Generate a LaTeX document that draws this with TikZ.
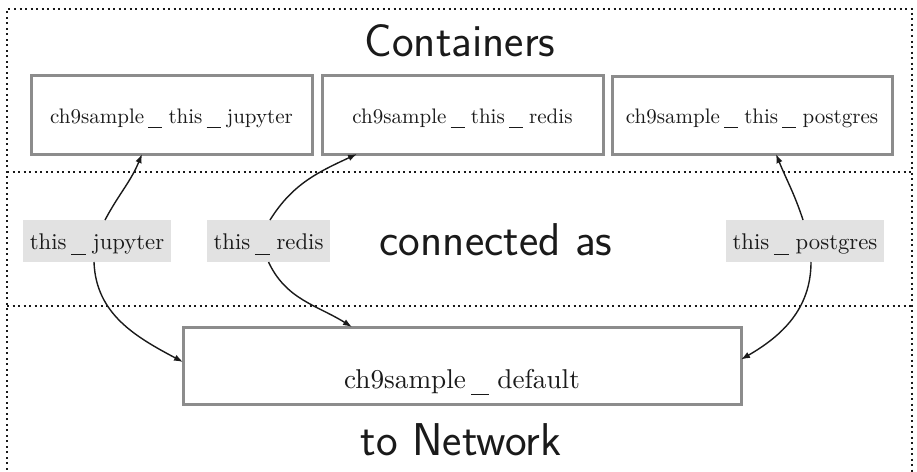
\documentclass[tikz,border=0pt]{standalone}
\usetikzlibrary{arrows.meta}
\definecolor{boxgray}{HTML}{8C8C8C}
\definecolor{labfill}{HTML}{E2E2E2}
\definecolor{ink}{HTML}{1A1A1A}
\newcommand\bigtxt[3]{\raisebox{#2}[0pt][0pt]{\scalebox{#1}{#3}}}
\newcommand\usc{\kern2pt\rule[-2.5pt]{6.6pt}{0.42pt}\kern3pt}
\begin{document}
\begin{tikzpicture}[x=1pt,y=-1pt,
  frame/.style={line width=2pt,dash pattern=on 2pt off 3.5pt,ink},
  cbox/.style={draw=boxgray,line width=3pt,fill=white,inner sep=0pt,outer sep=0pt,
     minimum width=281pt,minimum height=79pt,text=ink,font=\normalsize},
  lab/.style={fill=labfill,inner sep=0pt,outer sep=0pt,minimum height=42pt,text=ink,
     font=\normalsize},
  title/.style={text=ink,font=\sffamily\fontsize{46}{52}\selectfont,inner sep=0pt},
  conn/.style={line width=1.4pt,ink,-{Latex[length=9pt,width=6.5pt]}}]
\useasboundingbox (0,0) rectangle (917,471);
\draw[frame] (7,475) -- (7,9) -- (912,9) -- (912,475);
\draw[frame] (7,172) -- (912,172);
\draw[frame] (7,305.5) -- (912,305.5);

\node[title] (t1) at (460,41) {Containers};
\node[title] (t2) at (496,240) {connected as};
\node[title] (t3) at (461,440) {to Network};

\node[cbox] (jup) at (171.5,114.5) {\bigtxt{2.1}{-8.5pt}{ch9sample\usc this\usc jupyter}};
\node[cbox] (red) at (462.5,114.5) {\bigtxt{2.1}{-8.5pt}{ch9sample\usc this\usc redis}};
\node[cbox,minimum width=280pt,minimum height=78pt] (pg) at (752,115) {\bigtxt{2.1}{-8pt}{ch9sample\usc this\usc postgres}};
\node[cbox,minimum width=558pt,minimum height=77pt] (def) at (462,365.5) {\bigtxt{2.72}{-22.5pt}{ch9sample\usc default}};

\node[lab,minimum width=148pt] (jl) at (97,241) {\bigtxt{2.27}{-8.3pt}{this\usc jupyter}};
\node[lab,minimum width=123pt] (rl) at (268.5,241) {\bigtxt{2.27}{-8.3pt}{this\usc redis}};
\node[lab,minimum width=158pt] (pl) at (805,241) {\bigtxt{2.27}{-8.3pt}{this\usc postgres}};

\draw[conn] ([xshift=8pt]jl.north) to[out=62,in=-112] ([xshift=-29.5pt]jup.south);
\draw[conn] ([xshift=-3pt]jl.south) to[out=-88,in=152] ([yshift=3.5pt]def.west);
\draw[conn] ([xshift=1.5pt]rl.north) to[out=58,in=-155] ([xshift=-105.5pt]red.south);
\draw[conn] (rl.south) to[out=-65,in=148] ([xshift=-110pt]def.north);
\draw[conn] ([xshift=-2pt]pl.north) to[out=108,in=-68] ([xshift=24pt]pg.south);
\draw[conn] ([xshift=6pt]pl.south) to[out=-90,in=30] ([yshift=6pt]def.east);
\end{tikzpicture}
\end{document}
